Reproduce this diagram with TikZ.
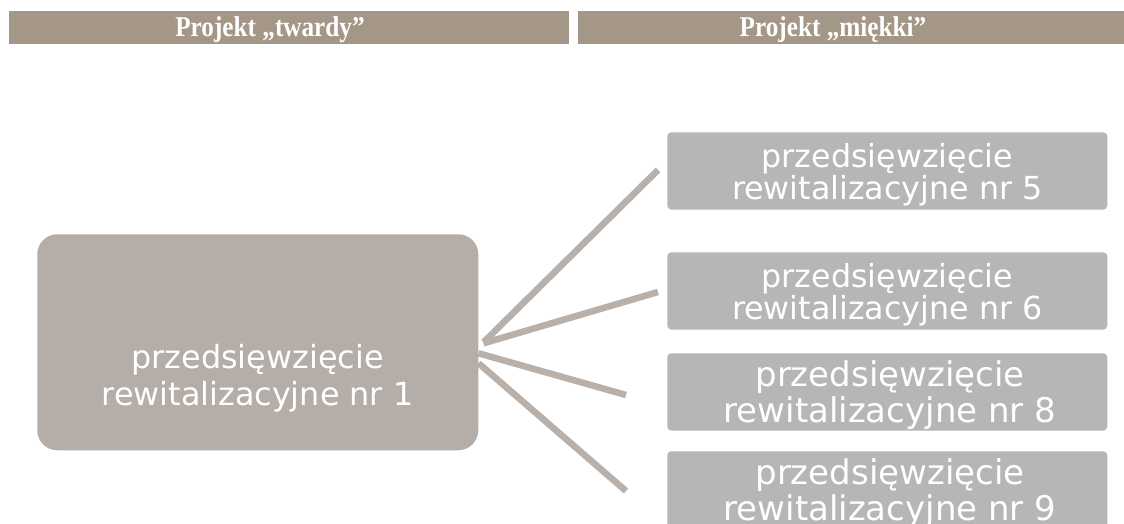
\documentclass[tikz,border=0pt]{standalone}
\usepackage{fontspec}
\setmainfont{Liberation Serif}
\newfontfamily\hdrfont[FakeStretch=0.88]{Liberation Serif}
\newfontfamily\boxfont{DejaVu Sans}
\definecolor{cHdr}{HTML}{A59787}
\definecolor{cMain}{HTML}{B5ADA7}
\definecolor{cSub}{HTML}{B7B5B6}
\definecolor{cConn}{HTML}{B8B0A9}
\tikzset{
  hbar/.style={fill=cHdr, draw=none, anchor=north west, minimum height=24.75pt, inner sep=0pt},
  htext/.style={text=white, font=\hdrfont\bfseries\fontsize{21.5}{22}\selectfont, anchor=base, inner sep=0pt},
  bigbox/.style={fill=cMain, draw=none, rounded corners=15pt, anchor=north west, minimum width=330.75pt, minimum height=162pt, inner sep=0pt},
  smallbox/.style={fill=cSub, draw=none, rounded corners=3pt, anchor=north west, minimum width=330pt, minimum height=58pt, inner sep=0pt},
  btext/.style={text=white, align=center, inner sep=0pt},
  fa/.style={font=\boxfont\fontsize{23.8}{23.8}\selectfont},
  fb/.style={font=\boxfont\fontsize{25.5}{27}\selectfont},
  fm/.style={font=\boxfont\fontsize{23.9}{28}\selectfont},
  conn/.style={draw=cConn, line width=4.9pt},
}
\begin{document}
\begin{tikzpicture}[x=0.75pt,y=-0.75pt]
\useasboundingbox (0,0) rectangle (1124,524);
\clip (0,0) rectangle (1124,524);
\fill[white] (0,0) rectangle (1124,524);
% header bars
\node[hbar, minimum width=420pt] (h1) at (9,11) {};
\node[hbar, minimum width=409.5pt] (h2) at (578,11) {};
\begin{scope}
  \clip (h1.north west) rectangle (h2.south east);
  \node[htext] (t1) at (270,37) {Projekt „twardy”};
  \node[htext] (t2) at (833,37) {Projekt „miękki”};
\end{scope}
% main box
\node[bigbox] (main) at (37,234) {};
\node[btext, fm] (maintext) at (257.5,378) {przedsięwzięcie\\rewitalizacyjne nr 1};
% right boxes
\node[smallbox] (p5) at (667,132) {};
\node[smallbox] (p6) at (667,252) {};
\node[smallbox] (p8) at (667,353) {};
\node[smallbox] (p9) at (667,451) {};
\node[btext, fa] (p5t) at ([yshift=-2.8pt]p5.center) {przedsięwzięcie\\rewitalizacyjne nr 5};
\node[btext, fa] (p6t) at ([yshift=-2.8pt]p6.center) {przedsięwzięcie\\rewitalizacyjne nr 6};
\node[btext, fb] (p8t) at ([xshift=2pt,yshift=-2.3pt]p8.center) {przedsięwzięcie\\rewitalizacyjne nr 8};
\node[btext, fb] (p9t) at ([xshift=2pt,yshift=-2.3pt]p9.center) {przedsięwzięcie\\rewitalizacyjne nr 9};
% connector free ends
\coordinate (c5) at (658,170);
\coordinate (c6) at (658,292);
\coordinate (c8) at (626,395);
\coordinate (c9) at (626,491);
\draw[conn] ([xshift=3.75pt]main.east) -- (c5);
\draw[conn] ([xshift=3.75pt,yshift=-0.75pt]main.east) -- (c6);
\draw[conn] ([yshift=-8.25pt]main.east) -- (c8);
\draw[conn] ([yshift=-15.75pt]main.east) -- (c9);
\end{tikzpicture}
\end{document}
